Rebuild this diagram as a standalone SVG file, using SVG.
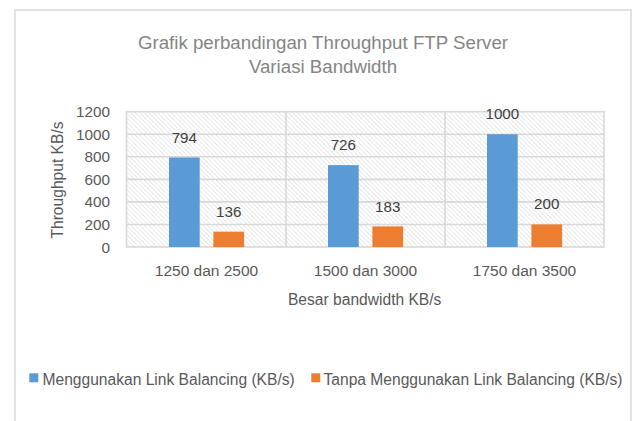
<svg xmlns="http://www.w3.org/2000/svg" width="635" height="421" viewBox="0 0 635 421">
  <style>
    text { font-family: "Liberation Sans", Arial, sans-serif; fill: #595959; }
    .title { font-size: 18.7px; fill: #858585; text-anchor: middle; }
    .tick { font-size: 15.3px; text-anchor: end; }
    .cat { font-size: 15.5px; text-anchor: middle; }
    .val { font-size: 15.2px; text-anchor: middle; fill: #404040; }
    .axt { font-size: 15.6px; text-anchor: middle; }
    .leg { font-size: 15.6px; }
    .grid { stroke: #d9d9d9; stroke-width: 1.6; fill: none; }
    .blue { fill: #5B9BD5; }
    .orange { fill: #ED7D31; }
  </style>
  <defs>
    <pattern id="hatch" width="4.5" height="4.5" patternUnits="userSpaceOnUse">
      <path d="M-1,-1 L5.5,5.5 M-1,3.5 L1,5.5 M3.5,-1 L5.5,1" stroke="#dedede" stroke-width="0.9"/>
    </pattern>
  </defs>
  <rect x="0" y="0" width="635" height="421" fill="#ffffff"/>
  <g id="chart-border">
    <path d="M15,425 L15,10 L631,10 L631,425" fill="none" stroke="#d9d9d9" stroke-width="1.5"/>
  </g>
  <g id="title">
    <text class="title" x="323" y="49">Grafik perbandingan Throughput FTP Server</text>
    <text class="title" x="323" y="73">Variasi Bandwidth</text>
  </g>
  <g id="plot-area">
    <rect x="126.5" y="111.7" width="477.5" height="135.3" fill="url(#hatch)"/>
    <g class="grid">
      <line x1="126.5" y1="134.25" x2="604" y2="134.25"/>
      <line x1="126.5" y1="156.8" x2="604" y2="156.8"/>
      <line x1="126.5" y1="179.35" x2="604" y2="179.35"/>
      <line x1="126.5" y1="201.9" x2="604" y2="201.9"/>
      <line x1="126.5" y1="224.45" x2="604" y2="224.45"/>
      <line x1="286" y1="111.7" x2="286" y2="247"/>
      <line x1="445" y1="111.7" x2="445" y2="247"/>
      <rect x="126.5" y="111.7" width="477.5" height="135.3"/>
    </g>
  </g>
  <g id="y-axis">
    <text class="tick" x="110" y="252.5">0</text>
    <text class="tick" x="110" y="229.95">200</text>
    <text class="tick" x="110" y="207.4">400</text>
    <text class="tick" x="110" y="184.85">600</text>
    <text class="tick" x="110" y="162.3">800</text>
    <text class="tick" x="110" y="139.75">1000</text>
    <text class="tick" x="110" y="117.2">1200</text>
    <text class="axt" transform="translate(63,180) rotate(-90)">Throughput KB/s</text>
  </g>
  <g id="series-blue">
    <rect class="blue" x="169" y="157.48" width="30.7" height="89.52"/>
    <rect class="blue" x="328" y="165.14" width="30.7" height="81.86"/>
    <rect class="blue" x="487" y="134.25" width="30.7" height="112.75"/>
  </g>
  <g id="series-orange">
    <rect class="orange" x="213.4" y="231.67" width="30.7" height="15.33"/>
    <rect class="orange" x="372.4" y="226.37" width="30.7" height="20.63"/>
    <rect class="orange" x="531.4" y="224.45" width="30.7" height="22.55"/>
  </g>
  <g id="data-labels">
    <text class="val" x="184.35" y="142.7">794</text>
    <text class="val" x="228.75" y="217.3">136</text>
    <text class="val" x="343.35" y="149.6">726</text>
    <text class="val" x="387.75" y="212.2">183</text>
    <text class="val" x="502.35" y="118.6">1000</text>
    <text class="val" x="546.75" y="209.4">200</text>
  </g>
  <g id="x-axis">
    <text class="cat" x="206.5" y="276">1250 dan 2500</text>
    <text class="cat" x="365.5" y="276">1500 dan 3000</text>
    <text class="cat" x="524.5" y="276">1750 dan 3500</text>
    <text class="axt" x="364.7" y="305">Besar bandwidth KB/s</text>
  </g>
  <g id="legend">
    <rect class="blue" x="29.3" y="373.3" width="9" height="9"/>
    <text class="leg" x="42.5" y="385">Menggunakan Link Balancing (KB/s)</text>
    <rect class="orange" x="311.3" y="373.3" width="9" height="9"/>
    <text class="leg" x="323.5" y="385">Tanpa Menggunakan Link Balancing (KB/s)</text>
  </g>
</svg>
